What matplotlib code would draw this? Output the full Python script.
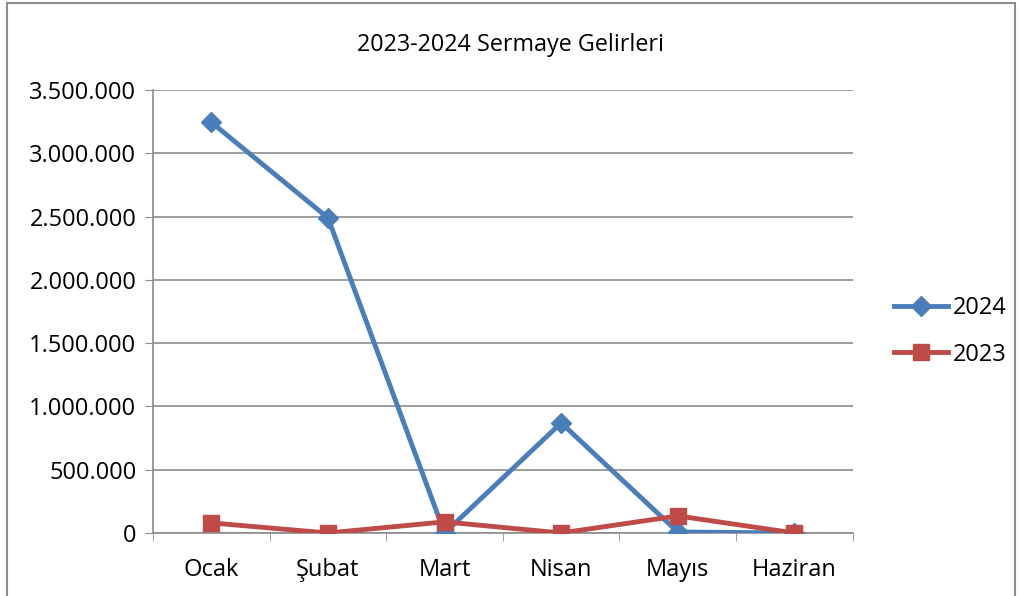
import numpy as np
import matplotlib.pyplot as plt
from matplotlib.patches import Rectangle
from matplotlib.ticker import FuncFormatter

plt.rcParams['font.family'] = ['Open Sans', 'DejaVu Sans']

aylar = ['Ocak', 'Şubat', 'Mart', 'Nisan', 'Mayıs', 'Haziran']
gelir_2024 = [3245000, 2490000, 0, 870000, 8000, 0]
gelir_2023 = [80000, 0, 88000, 0, 135000, 0]

fig = plt.figure(figsize=(10.2, 5.96), dpi=100)
ax = fig.add_axes([0.15, 0.1057, 0.686, 0.7433])

x = np.arange(len(aylar))
ax.plot(x, gelir_2024, color='#4a7ebb', lw=3.5, marker='D', markersize=10,
        label='2024', zorder=3)
ax.plot(x, gelir_2023, color='#be4b48', lw=3.5, marker='s', markersize=12,
        label='2023', zorder=4)

ax.set_xlim(-0.5, len(aylar) - 0.5)
ax.set_ylim(0, 3500000)
ax.set_yticks(np.arange(0, 3500001, 500000))
ax.yaxis.set_major_formatter(FuncFormatter(lambda v, p: f'{int(v):,}'.replace(',', '.')))
ax.grid(axis='y', color='#8c8c8c', lw=1.2)
ax.set_axisbelow(True)

ax.set_xticks(x)
ax.set_xticklabels(aylar)
ax.set_xticks(np.arange(-0.5, len(aylar)), minor=True)
ax.tick_params(axis='x', which='major', length=0, pad=18, labelsize=17)
ax.tick_params(axis='x', which='minor', length=6, color='#8c8c8c')
ax.tick_params(axis='y', length=6, color='#8c8c8c', labelsize=17, pad=6)

for s in ['top', 'right']:
    ax.spines[s].set_visible(False)
for s in ['left', 'bottom']:
    ax.spines[s].set_color('#8c8c8c')
    ax.spines[s].set_linewidth(1.2)

fig.text(0.5, 0.924, '2023-2024 Sermaye Gelirleri', ha='center', va='center', fontsize=16.8)

ax.legend(loc='center left', bbox_to_anchor=(1.045, 0.455), frameon=False,
          fontsize=17, handlelength=2.3, handletextpad=0.2, labelspacing=0.95,
          borderaxespad=0)

fig.add_artist(Rectangle((0.007, -0.01), 0.988, 1.005, transform=fig.transFigure,
                         fill=False, edgecolor='#8c8c8c', lw=1.5))

fig.savefig('out.png', dpi=100)
